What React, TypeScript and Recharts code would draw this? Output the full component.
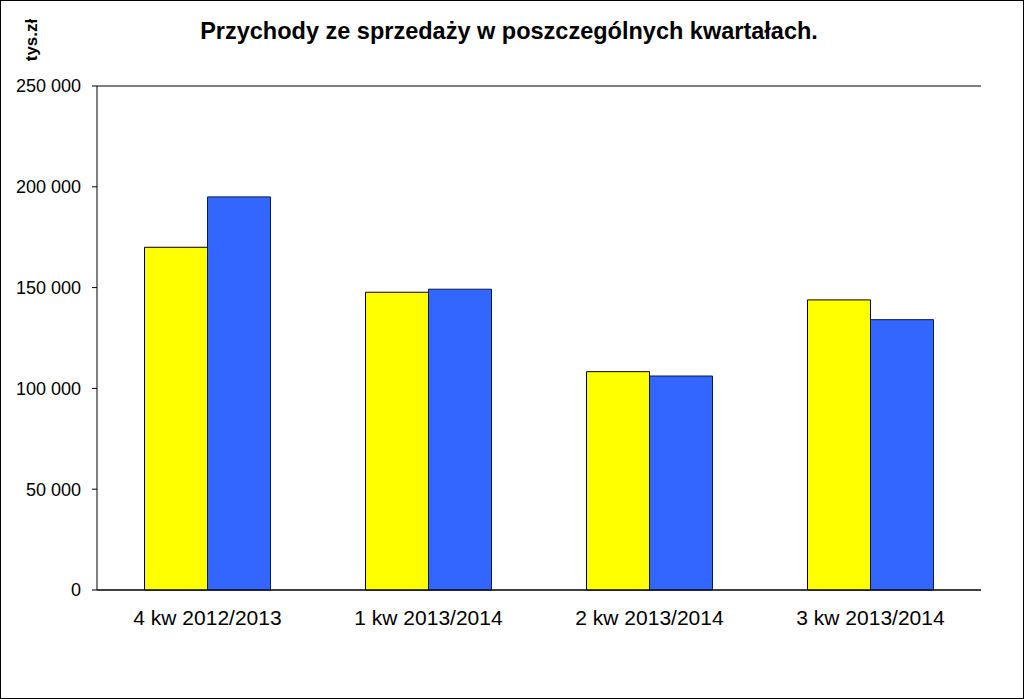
import React from "react";
import { BarChart, Bar, XAxis, YAxis, CartesianGrid } from "recharts";

const categories = ["4 kw 2012/2013", "1 kw 2013/2014", "2 kw 2013/2014", "3 kw 2013/2014"];
const seriesA = [170000, 147700, 108300, 143900];
const seriesB = [195000, 149200, 106150, 134100];
const yTicks = [0, 50000, 100000, 150000, 200000, 250000];
const boundaryTicks = [0, 1, 2, 3, 4];
const title = "Przychody ze sprzedaży w poszczególnych kwartałach.";
const unitLabel = "tys.zł";

const data = categories.map((c, i) => ({ name: c, a: seriesA[i], b: seriesB[i] }));

const fmt = (v: number) => String(v).replace(/\B(?=(\d{3})+(?!\d))/g, " ");

const FONT = "'Liberation Sans', Arial, sans-serif";

export default function App() {
  return (
    <div style={{ position: "absolute", left: 0, top: 0, width: 1024, height: 699, background: "#fff", fontFamily: FONT }}>
      <BarChart
        width={1024}
        height={699}
        data={data}
        margin={{ top: 86, right: 43, left: 0, bottom: 0 }}
        barCategoryGap="21.5%"
        barGap={0}
      >
        <CartesianGrid horizontal={true} vertical={false} stroke="#000" strokeWidth={1} />
        <XAxis
          xAxisId="bound"
          type="number"
          domain={[0, 4]}
          ticks={boundaryTicks}
          height={0}
          tick={false}
          tickSize={6}
          tickLine={{ stroke: "#000" }}
          axisLine={false}
        />
        <XAxis
          xAxisId="cat"
          dataKey="name"
          height={109}
          tickLine={false}
          tickSize={0}
          tickMargin={20}
          axisLine={{ stroke: "#000" }}
          tick={{ fill: "#000", fontSize: 21, fontFamily: FONT }}
          interval={0}
        />
        <XAxis
          xAxisId="top"
          orientation="top"
          dataKey="name"
          height={0}
          tick={false}
          tickLine={false}
          axisLine={{ stroke: "#808080", strokeWidth: 1.5 }}
        />
        <YAxis
          yAxisId="left"
          width={97}
          domain={[0, 250000]}
          ticks={yTicks}
          tickFormatter={fmt}
          tickSize={5}
          tickMargin={11}
          tickLine={{ stroke: "#000" }}
          axisLine={{ stroke: "#000" }}
          tick={{ fill: "#000", fontSize: 18, fontFamily: FONT }}
          interval={0}
        />
        <YAxis
          yAxisId="right"
          orientation="right"
          width={0}
          domain={[0, 250000]}
          tick={false}
          tickLine={false}
          axisLine={{ stroke: "#808080", strokeWidth: 1.5 }}
        />
        <Bar xAxisId="cat" yAxisId="left" dataKey="a" fill="#FFFF00" stroke="#000" strokeWidth={1} isAnimationActive={false} />
        <Bar xAxisId="cat" yAxisId="left" dataKey="b" fill="#3366FF" stroke="#0a1a4a" strokeWidth={1} isAnimationActive={false} />
      </BarChart>
      <div
        style={{
          position: "absolute",
          left: 509,
          top: 19,
          transform: "translateX(-50%)",
          fontSize: 23.5,
          lineHeight: "24px",
          fontWeight: "bold",
          whiteSpace: "nowrap",
          color: "#000",
        }}
      >
        {title}
      </div>
      <div
        style={{
          position: "absolute",
          left: 31,
          top: 40,
          transform: "translate(-50%, -50%) rotate(-90deg)",
          fontSize: 17,
          lineHeight: "17px",
          fontWeight: "bold",
          whiteSpace: "nowrap",
          color: "#000",
        }}
      >
        {unitLabel}
      </div>
      <div
        style={{
          position: "absolute",
          left: 0,
          top: 0,
          width: 1024,
          height: 699,
          border: "1px solid #000",
          boxSizing: "border-box",
          pointerEvents: "none",
        }}
      />
    </div>
  );
}
